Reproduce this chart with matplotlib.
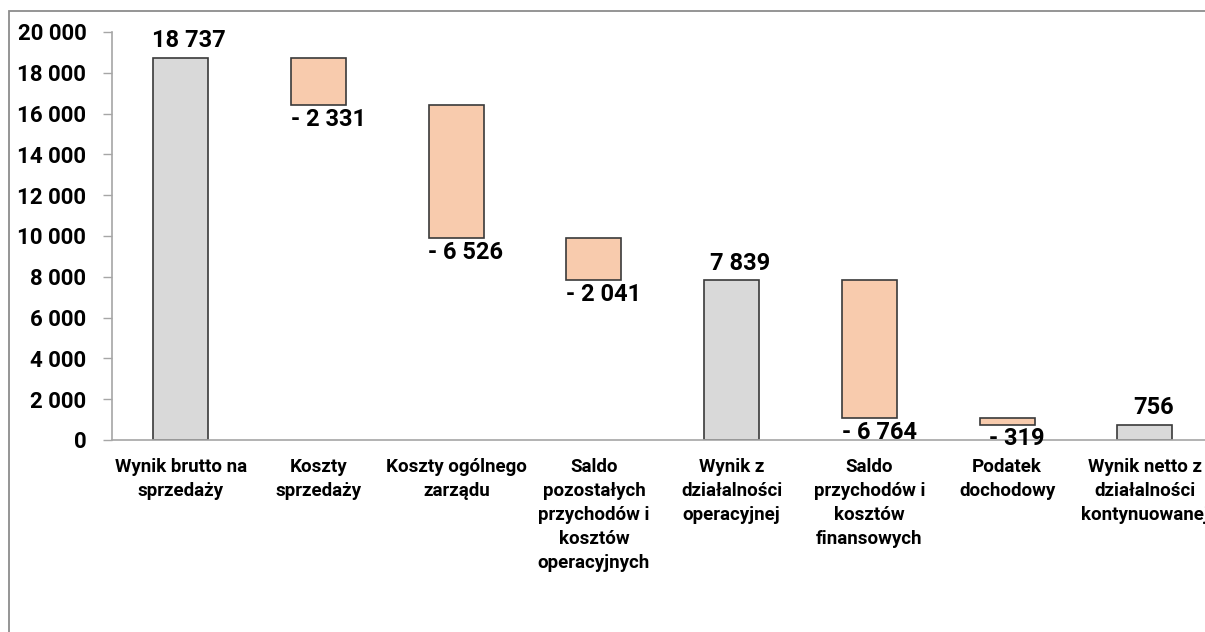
import matplotlib

matplotlib.use("Agg")
import matplotlib.pyplot as plt
import numpy as np
from matplotlib.patches import Rectangle

CATEGORIES = [
    "Wynik brutto na\nsprzedaży",
    "Koszty\nsprzedaży",
    "Koszty ogólnego\nzarządu",
    "Saldo\npozostałych\nprzychodów i\nkosztów\noperacyjnych",
    "Wynik z\ndziałalności\noperacyjnej",
    "Saldo\nprzychodów i\nkosztów\nfinansowych",
    "Podatek\ndochodowy",
    "Wynik netto z\ndziałalności\nkontynuowanej",
]
VALUES = [18737, -2331, -6526, -2041, 7839, -6764, -319, 756]
IS_TOTAL = [True, False, False, False, True, False, False, True]
Y_TICKS = [0, 2000, 4000, 6000, 8000, 10000, 12000, 14000, 16000, 18000, 20000]

GREY = "#D9D9D9"
ORANGE = "#F8CBAD"
EDGE = "#3a3a3a"
AXIS_GREY = "#A6A6A6"

plt.rcParams["font.family"] = ["Roboto", "DejaVu Sans"]
plt.rcParams["font.weight"] = "bold"


def fmt(v: float) -> str:
    s = f"{abs(int(v)):,}".replace(",", " ")
    return f"- {s}" if v < 0 else s


W, H = 1205, 632
fig = plt.figure(figsize=(W / 100, H / 100), dpi=100)
fig.patch.set_facecolor("white")

# outer chart border (only left/top visible, rest cropped)
fig.add_artist(Rectangle((9 / W, -0.1), 1.2, (H - 11) / H + 0.1, transform=fig.transFigure,
                         fill=False, edgecolor="#8c8c8c", linewidth=1.3))

ax = fig.add_axes([112 / W, (H - 440) / H, 1101.6 / W, 408 / H])

x = np.arange(len(VALUES))
bottoms = []
heights = []
running = 0.0
for v, total in zip(VALUES, IS_TOTAL):
    if total:
        bottoms.append(0.0)
        heights.append(v)
        running = v
    else:
        bottoms.append(running + v)
        heights.append(-v)
        running = running + v

colors = [GREY if t else ORANGE for t in IS_TOTAL]
ax.bar(x, heights, bottom=bottoms, width=0.4, color=colors, edgecolor=EDGE, linewidth=1.2, zorder=2)

for xi, v, b, h, total in zip(x, VALUES, bottoms, heights, IS_TOTAL):
    if total:
        ax.annotate(fmt(v), xy=(xi, b + h), xytext=(6, 4), textcoords="offset points",
                    ha="center", va="bottom", fontsize=17, fontweight="bold", zorder=3)
    else:
        ax.annotate(fmt(v), xy=(xi, b), xytext=(7, -2), textcoords="offset points",
                    ha="center", va="top", fontsize=17, fontweight="bold", zorder=3)

ax.set_xlim(-0.5, len(VALUES) - 0.5)
ax.set_ylim(0, 20000)
ax.set_yticks(Y_TICKS)
ax.set_yticklabels([fmt(t) for t in Y_TICKS])
ax.set_xticks(x)
ax.set_xticklabels(CATEGORIES, fontsize=13.5, fontweight="bold", linespacing=1.42)

ax.tick_params(axis="y", labelsize=16, length=6.5, width=1, color=AXIS_GREY, pad=12)
ax.tick_params(axis="x", length=0, pad=13)

for side in ("top", "right"):
    ax.spines[side].set_visible(False)
for side in ("left", "bottom"):
    ax.spines[side].set_color(AXIS_GREY)
    ax.spines[side].set_linewidth(1.2)

fig.savefig("out.png", dpi=100)
